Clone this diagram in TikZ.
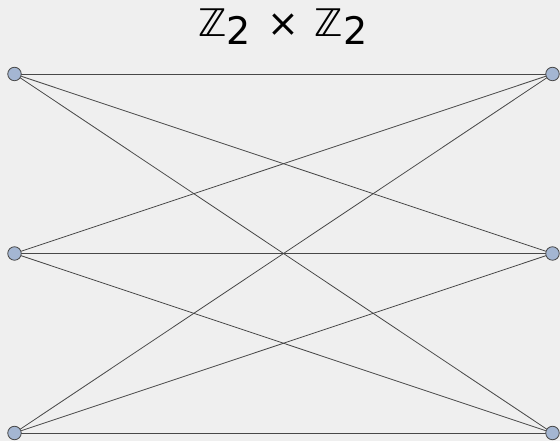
\documentclass[tikz,border=0pt]{standalone}
\usepackage{fontspec}
\newfontfamily\titlefont{DejaVu Sans}
\definecolor{bgc}{HTML}{EFEFEF}
\definecolor{nodefill}{HTML}{A4B6D2}
\definecolor{nodeline}{HTML}{4A4A4A}
\definecolor{edgec}{HTML}{484848}
\begin{document}
\begin{tikzpicture}[x=1pt,y=1pt,
  vert/.style={circle,draw=nodeline,fill=nodefill,line width=0.8pt,minimum size=13.5pt,inner sep=0pt},
  edge/.style={draw=edgec,line width=0.8pt}]
\fill[bgc] (0,0) rectangle (560,441);
\useasboundingbox (0,0) rectangle (560,441);
\node[font=\titlefont\fontsize{38}{44}\selectfont,inner sep=0pt] (title) at (283,414) {ℤ\raisebox{-8pt}{2}\hspace{16pt}×\hspace{16pt}ℤ\raisebox{-8pt}{2}};
\coordinate (l1c) at (14.5,367);
\coordinate (l2c) at (14.5,187.5);
\coordinate (l3c) at (14.5,8);
\coordinate (r1c) at (552.5,367);
\coordinate (r2c) at (552.5,187.5);
\coordinate (r3c) at (552.5,8);
\foreach \a in {l1,l2,l3}{
  \foreach \b in {r1,r2,r3}{
    \draw[edge] (\a c) -- (\b c);
  }
}
\foreach \n in {l1,l2,l3,r1,r2,r3}{
  \node[vert] (\n) at (\n c) {};
}
\end{tikzpicture}
\end{document}
